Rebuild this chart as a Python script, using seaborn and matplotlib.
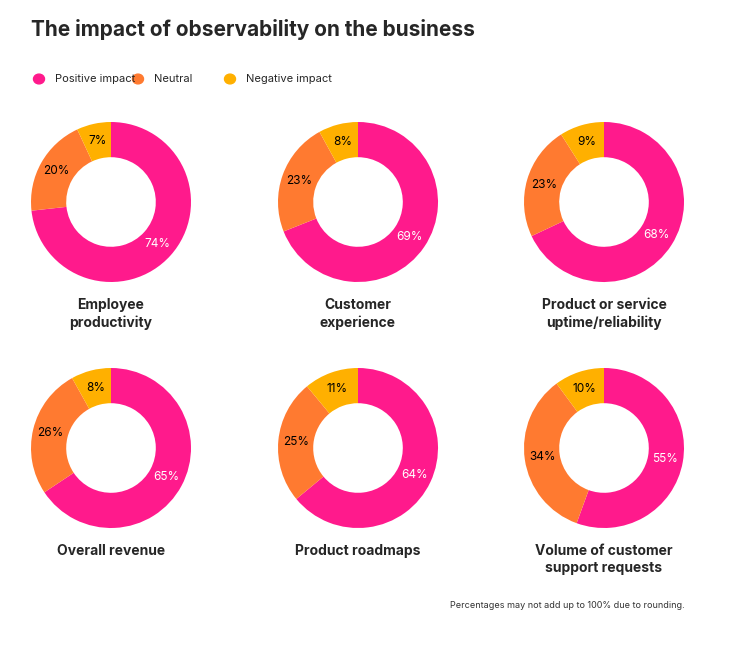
import matplotlib
matplotlib.use("Agg")
import matplotlib.pyplot as plt
import seaborn as sns

categories = ["Employee\nproductivity", "Customer\nexperience", "Product or service\nuptime/reliability",
              "Overall revenue", "Product roadmaps", "Volume of customer\nsupport requests"]
positive = [74, 69, 68, 65, 64, 55]
neutral = [20, 23, 23, 26, 25, 34]
negative = [7, 8, 9, 8, 11, 10]
series = ["Positive impact", "Neutral", "Negative impact"]

sns.set_theme(style="white")
plt.rcParams["font.family"] = ["Inter", "DejaVu Sans"]
colors = ["#FF1A8C", "#FF7A30", "#FFB000"]
text_colors = ["white", "black", "black"]

W, H = 744, 660
fig = plt.figure(figsize=(W / 100, H / 100), dpi=100)
fig.patch.set_facecolor("white")

fig.text(31 / W, 1 - 30 / H, "The impact of observability on the business",
         fontsize=15, fontweight="bold", va="center", ha="left")

# legend
for i, (name, x) in enumerate(zip(series, [39, 138, 230])):
    fig.patches.append(plt.Circle((x / W, 1 - 79 / H), 5.5 / W, transform=fig.transFigure,
                                  color=colors[i], figure=fig))
    fig.text((x + 16) / W, 1 - 79 / H, name, fontsize=8, va="center", ha="left")

centers_x = [111, 358, 604]
centers_y = [202, 448]
size = 170
for k, cat in enumerate(categories):
    cx = centers_x[k % 3]
    cy = centers_y[k // 3]
    ax = fig.add_axes([(cx - size / 2) / W, (H - cy - size / 2) / H, size / W, size / H])
    vals = [positive[k], neutral[k], negative[k]]
    wedges, texts = ax.pie(vals, colors=colors, startangle=90, counterclock=False,
                           wedgeprops=dict(width=0.44, linewidth=0), labels=[f"{v}%" for v in vals],
                           labeldistance=0.78)
    for t, c in zip(texts, text_colors):
        t.set_color(c)
        t.set_fontsize(8.5)
        t.set_ha("center")
        t.set_va("center")
    ax.set_xlim(-1.0625, 1.0625)
    ax.set_ylim(-1.0625, 1.0625)
    ax.set_aspect("equal")
    ax.axis("off")
    fig.text(cx / W, 1 - (cy + 96) / H, cat, fontsize=10, fontweight="bold",
             ha="center", va="top", linespacing=1.3)

fig.text(685 / W, 1 - 606 / H, "Percentages may not add up to 100% due to rounding.",
         fontsize=6.5, ha="right", va="center", color="#333333")

fig.savefig("out.png", dpi=100, facecolor="white")
